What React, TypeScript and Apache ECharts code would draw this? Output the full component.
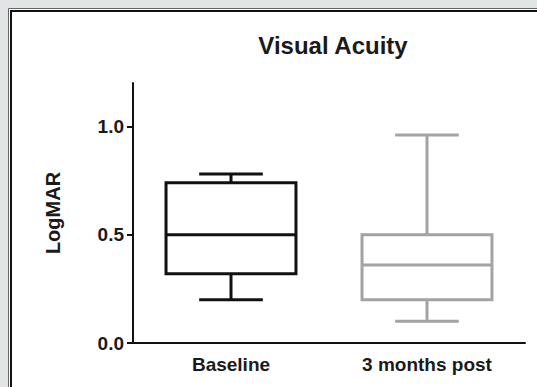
import React, { useEffect, useRef } from "react";
import * as echarts from "echarts";

const categories = ["Baseline", "3 months post"];
const whiskerLow = [0.2, 0.1];
const quartile1 = [0.32, 0.2];
const medians = [0.5, 0.36];
const quartile3 = [0.74, 0.5];
const whiskerHigh = [0.78, 0.96];
const boxColors = ["#111111", "#a3a3a3"];
const yTickValues = [0, 0.5, 1.0];

const FONT = "'Liberation Sans', Arial, Helvetica, sans-serif";

export default function App() {
  const ref = useRef<HTMLDivElement>(null);
  useEffect(() => {
    if (!ref.current) return;
    const chart = echarts.init(ref.current, null, { renderer: "svg" });
    const data = categories.map((_, i) => [
      i,
      whiskerLow[i],
      quartile1[i],
      medians[i],
      quartile3[i],
      whiskerHigh[i],
    ]);
    chart.setOption({
      animation: false,
      backgroundColor: "#e1e5e6",
      graphic: [
        {
          type: "rect",
          z: -10,
          silent: true,
          shape: { x: 8.5, y: 8.5, width: 700, height: 700 },
          style: { fill: "#ffffff", stroke: "#666666", lineWidth: 1 },
        },
        {
          type: "rect",
          z: -9,
          silent: true,
          shape: { x: 11, y: 11, width: 700, height: 700 },
          style: { fill: "#ffffff", stroke: "#111111", lineWidth: 2 },
        },
      ],
      title: {
        text: "Visual Acuity",
        left: 328,
        top: 28,
        textAlign: "center",
        textStyle: {
          fontFamily: FONT,
          fontWeight: "bold",
          fontSize: 24,
          color: "#1a1a1a",
        },
      },
      grid: { left: 133, right: 12, top: 83, bottom: 44, containLabel: false },
      xAxis: {
        type: "category",
        data: categories,
        boundaryGap: true,
        axisLine: { lineStyle: { color: "#111", width: 2 } },
        axisTick: { alignWithLabel: true, length: 5, lineStyle: { color: "#111", width: 2 } },
        axisLabel: {
          margin: 12,
          fontFamily: FONT,
          fontWeight: "bold",
          fontSize: 19,
          color: "#1a1a1a",
        },
        splitLine: { show: false },
      },
      yAxis: {
        type: "value",
        min: 0,
        max: 1.2,
        interval: 0.5,
        name: "LogMAR",
        nameLocation: "middle",
        nameRotate: 90,
        nameGap: 70,
        nameTextStyle: {
          fontFamily: FONT,
          fontWeight: "bold",
          fontSize: 20,
          color: "#1a1a1a",
        },
        axisLine: { show: true, lineStyle: { color: "#111", width: 2 } },
        axisTick: {
          show: true,
          length: 6,
          customValues: yTickValues,
          lineStyle: { color: "#111", width: 2 },
        },
        axisLabel: {
          margin: 9,
          customValues: yTickValues,
          formatter: (v: number) => v.toFixed(1),
          fontFamily: FONT,
          fontWeight: "bold",
          fontSize: 19,
          color: "#1a1a1a",
        },
        splitLine: { show: false },
      },
      series: [
        {
          type: "custom",
          data,
          encode: { x: 0, y: [1, 2, 3, 4, 5] },
          renderItem: (params: any, api: any) => {
            const idx = api.value(0);
            const band = api.size([1, 0])[0];
            const boxW = band * 0.663;
            const capW = boxW * 0.49;
            const low = api.coord([idx, api.value(1)]);
            const q1 = api.coord([idx, api.value(2)]);
            const med = api.coord([idx, api.value(3)]);
            const q3 = api.coord([idx, api.value(4)]);
            const high = api.coord([idx, api.value(5)]);
            const cx = low[0];
            const color = boxColors[params.dataIndex];
            const ls = { stroke: color, lineWidth: 3, fill: null };
            return {
              type: "group",
              children: [
                {
                  type: "rect",
                  shape: { x: cx - boxW / 2, y: q3[1], width: boxW, height: q1[1] - q3[1] },
                  style: { stroke: color, lineWidth: 3, fill: "#ffffff" },
                },
                { type: "line", shape: { x1: cx - boxW / 2, y1: med[1], x2: cx + boxW / 2, y2: med[1] }, style: ls },
                { type: "line", shape: { x1: cx, y1: q3[1], x2: cx, y2: high[1] }, style: ls },
                { type: "line", shape: { x1: cx, y1: q1[1], x2: cx, y2: low[1] }, style: ls },
                { type: "line", shape: { x1: cx - capW / 2, y1: high[1], x2: cx + capW / 2, y2: high[1] }, style: ls },
                { type: "line", shape: { x1: cx - capW / 2, y1: low[1], x2: cx + capW / 2, y2: low[1] }, style: ls },
              ],
            };
          },
        },
      ],
    });
    return () => chart.dispose();
  }, []);
  return (
    <div
      ref={ref}
      style={{ position: "fixed", left: 0, top: 0, width: 537, height: 387 }}
    />
  );
}
